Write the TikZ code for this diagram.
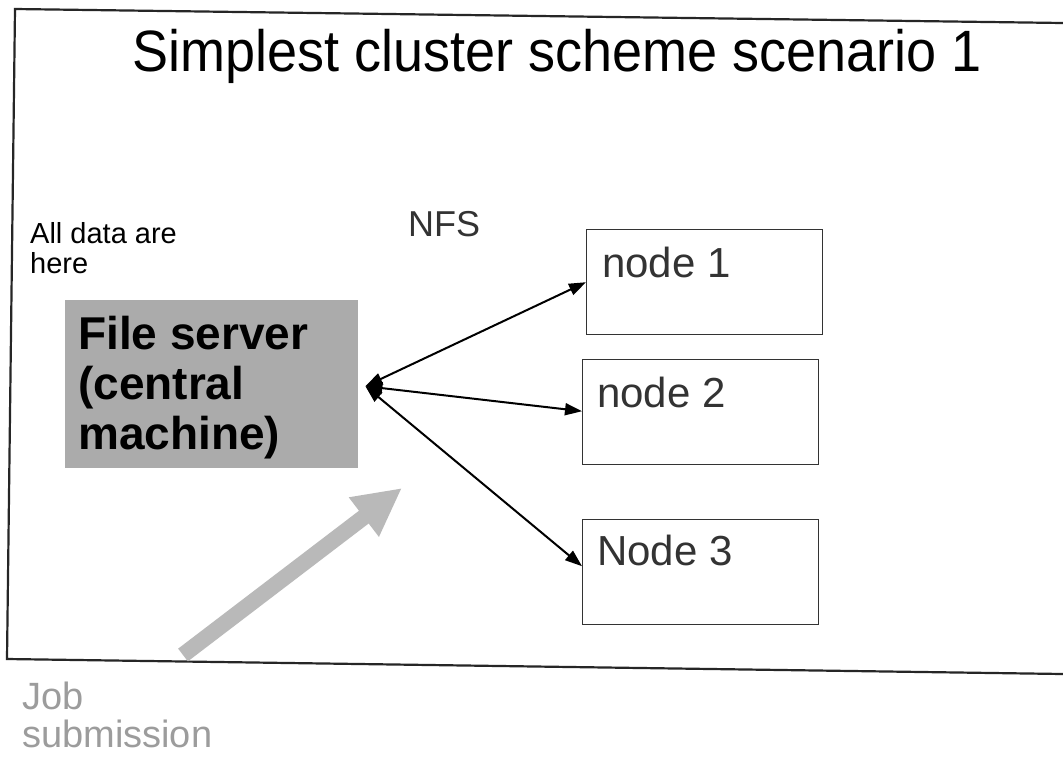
\documentclass[tikz,border=0pt]{standalone}
\usepackage{fontspec}
\setmainfont{Liberation Sans}
\usetikzlibrary{arrows.meta,calc}
\definecolor{boxgray}{HTML}{ABABAB}
\definecolor{arrowgray}{HTML}{B9B9B9}
\definecolor{jobgray}{HTML}{9C9C9C}
\definecolor{textdark}{HTML}{333333}
\begin{document}
\begin{tikzpicture}[x=1pt,y=-1pt,
  frame/.style={line width=2.2pt,draw=black!85},
  nodebox/.style={draw=black!80,line width=1.4pt,minimum width=236pt,minimum height=105pt,inner sep=0pt,anchor=north west},
  nodelabel/.style={anchor=base west,inner sep=0pt,text=textdark,font=\fontsize{42}{48}\selectfont},
  link/.style={line width=2pt,black,{Triangle[length=17pt,width=12pt]}-{Triangle[length=17pt,width=12pt]}},
  bigarrow/.style={line width=16pt,arrowgray,-{Triangle[length=48pt,width=46pt]}}
]
\useasboundingbox (0,0) rectangle (1063,756);
\fill[white] (0,0) rectangle (1063,756);
% frame
\draw[frame] (1063,23) -- (15,9) -- (7,659) -- (1063,674);
% title
\node[anchor=base west,inner sep=0pt,font=\fontsize{54}{60}\selectfont] (title) at (132,71) {\scalebox{1}[1.08]{Simplest cluster scheme scenario 1}};
% left note
\node[anchor=north west,inner sep=0pt,align=left,font=\fontsize{29}{30}\selectfont] (note) at (30,222) {All data are\\here};
% file server
\node[fill=boxgray,minimum width=293pt,minimum height=168pt,inner sep=0pt,anchor=north west] (fs) at (65,300) {};
\node[anchor=north west,inner sep=0pt,align=left,font=\bfseries\fontsize{46}{50}\selectfont] (fstext) at (78,316) {File server\\(central\\machine)};
% NFS
\node[anchor=base west,inner sep=0pt,text=textdark,font=\fontsize{36}{40}\selectfont] (nfs) at (408,236) {NFS};
% nodes
\node[nodebox] (n1) at (586,229) {};
\node[nodebox] (n2) at (582,359) {};
\node[nodebox] (n3) at (582,519) {};
\node[nodelabel] (l1) at ($(n1.north west)+(16,48)$) {node 1};
\node[nodelabel] (l2) at ($(n2.north west)+(15,48)$) {node 2};
\node[nodelabel] (l3) at ($(n3.north west)+(15,46)$) {Node 3};
% connectors
\coordinate (hub) at ($(fs.east)+(7,2)$);
\draw[link] (hub) -- (n1.west);
\draw[link] (hub) -- ($(n2.west)+(0,-1)$);
\draw[link] (hub) -- ($(n3.west)+(0,-6)$);
% job submission arrow
\node[anchor=north west,inner sep=0pt,align=left,text=jobgray,font=\fontsize{38}{38}\selectfont] (job) at (22,682) {Job\\submission};
\coordinate (jobstart) at (183,655);
\coordinate (jobend) at (402,488);
\draw[bigarrow] (jobstart) -- (jobend);
\end{tikzpicture}
\end{document}
